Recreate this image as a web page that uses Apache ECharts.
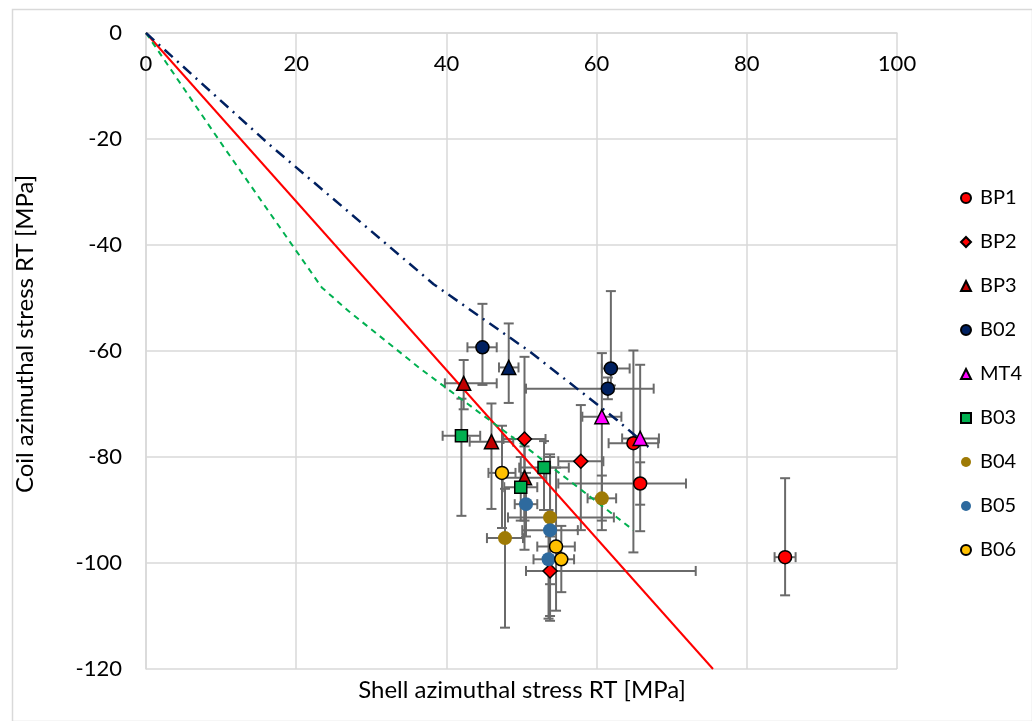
<!DOCTYPE html>
<html>
<head>
<meta charset="utf-8">
<script src="https://cdn.jsdelivr.net/npm/echarts@6/dist/echarts.min.js"></script>
<style>
html,body{margin:0;padding:0;background:#fff;}
#c{width:1032px;height:721px;}
</style>
</head>
<body>
<div id="c"></div>
<script>
// Each point: [x, y, xLow, xHigh, yLow, yHigh]
const BP1 = [[85.1,-98.9,83.7,86.5,-106.1,-84.0],[65.8,-85.0,54.9,71.9,-89.0,-81.0],[64.9,-77.4,61.6,68.2,-98.0,-59.9]];
const BP2 = [[50.4,-76.6,47.6,53.2,-92.0,-61.1],[57.9,-80.8,54.9,60.9,-93.8,-70.2],[53.8,-101.5,50.6,73.2,-110.9,-95.0]];
const BP3 = [[42.3,-66.1,39.8,46.7,-71.0,-61.7],[46.0,-77.1,43.1,48.9,-89.8,-69.9],[50.4,-83.9,47.5,53.3,-97.5,-78.0]];
const B02 = [[44.8,-59.3,42.8,46.7,-66.4,-51.1],[61.9,-63.3,60.7,64.4,-66.5,-48.7],[61.5,-67.1,50.6,67.6,-69.1,-65.0]];
const MT4 = [[60.7,-72.4,58.1,63.3,-93.8,-60.4],[65.8,-76.5,63.4,68.3,-94.0,-62.6]];
const B03 = [[42.0,-76.0,39.5,44.5,-91.1,-69.0],[53.0,-82.0,49.7,56.3,-90.0,-77.0],[49.9,-85.7,47.7,52.1,-92.0,-80.0]];
const B04 = [[60.7,-87.8,58.8,62.6,-92.0,-83.5],[53.8,-91.4,48.2,62.3,-104.0,-79.5],[47.8,-95.3,45.4,50.2,-112.2,-86.0]];
const B05 = [[50.6,-88.9,49.1,52.1,-95.0,-83.0],[53.8,-93.8,50.1,57.5,-110.0,-80.0],[53.6,-99.3,51.6,55.6,-110.5,-90.0]];
const B06 = [[47.4,-83.0,45.6,49.2,-93.4,-74.1],[54.6,-96.9,52.1,57.1,-109.0,-82.0],[55.3,-99.3,53.6,57.0,-105.5,-93.0]];
const EXTRA = [[48.3,-63.1,47.0,49.6,-69.8,-54.8]];

const redLine = [[0,0],[75.5,-120]];
const greenLine = [[0,0],[10.3,-21.4],[23.4,-48.0],[27,-52.5],[36.5,-63.3],[51.1,-78.7],[64.9,-93.8]];
const navyLine = [[0,0],[16.3,-20.9],[38.3,-47.4],[51.1,-60.1],[62.7,-73.0],[66.9,-78.1]];

const xTicks = [0,20,40,60,80,100];
const yTicks = [0,-20,-40,-60,-80,-100,-120];

const FONT = 'Lato, "Open Sans", sans-serif';

const markerDefs = [
  {name:'BP1', data:BP1, symbol:'circle', size:13, color:'#FF0000', border:'#000'},
  {name:'BP2', data:BP2, symbol:'diamond', size:14, color:'#FF0000', border:'#000'},
  {name:'BP3', data:BP3, symbol:'triangle', size:14, color:'#C00000', border:'#000'},
  {name:'B02', data:B02, symbol:'circle', size:13, color:'#002060', border:'#000'},
  {name:'MT4', data:MT4, symbol:'triangle', size:14, color:'#FF00FF', border:'#000'},
  {name:'B03', data:B03, symbol:'rect', size:12, color:'#00B050', border:'#000'},
  {name:'B04', data:B04, symbol:'circle', size:14, color:'#9E7A05', border:null},
  {name:'B05', data:B05, symbol:'circle', size:14, color:'#2E6A9E', border:null},
  {name:'B06', data:B06, symbol:'circle', size:13, color:'#FFC000', border:'#000'},
  {name:'extra', data:EXTRA, symbol:'triangle', size:14, color:'#002060', border:'#000'}
];

function errRender(params, api){
  const x=api.value(0), y=api.value(1);
  const c=api.coord([x,y]);
  const xl=api.coord([api.value(2),y]), xh=api.coord([api.value(3),y]);
  const yl=api.coord([x,api.value(4)]), yh=api.coord([x,api.value(5)]);
  const s={stroke:'#6a6a6a', lineWidth:2};
  const cap=5;
  return {type:'group', children:[
    {type:'line', shape:{x1:xl[0],y1:c[1],x2:xh[0],y2:c[1]}, style:s},
    {type:'line', shape:{x1:xl[0],y1:c[1]-cap,x2:xl[0],y2:c[1]+cap}, style:s},
    {type:'line', shape:{x1:xh[0],y1:c[1]-cap,x2:xh[0],y2:c[1]+cap}, style:s},
    {type:'line', shape:{x1:c[0],y1:yl[1],x2:c[0],y2:yh[1]}, style:s},
    {type:'line', shape:{x1:c[0]-cap,y1:yl[1],x2:c[0]+cap,y2:yl[1]}, style:s},
    {type:'line', shape:{x1:c[0]-cap,y1:yh[1],x2:c[0]+cap,y2:yh[1]}, style:s}
  ]};
}

const series = [];
markerDefs.forEach(d=>{
  series.push({
    type:'custom', name:d.name+'_err', renderItem:errRender, data:d.data,
    encode:{x:[0,2,3], y:[1,4,5]}, z:3, silent:true, clip:true
  });
});
series.push({type:'line', name:'red', data:redLine, showSymbol:false, z:4, clip:true,
  lineStyle:{color:'#FF0000', width:2}});
series.push({type:'line', name:'green', data:greenLine, showSymbol:false, z:4, clip:true,
  lineStyle:{color:'#00B050', width:2, type:[6,5]}});
series.push({type:'line', name:'navy', data:navyLine, showSymbol:false, z:4, clip:true,
  lineStyle:{color:'#002060', width:2.5, type:[11,6,2,6]}});
markerDefs.forEach(d=>{
  series.push({
    type:'scatter', name:d.name, data:d.data.map(p=>[p[0],p[1]]),
    symbol:d.symbol, symbolSize:d.size, z:5,
    itemStyle:{color:d.color, opacity:1, borderColor:d.border||d.color, borderWidth:d.border?1.5:0}
  });
});

const chart = echarts.init(document.getElementById('c'));
chart.setOption({
  animation:false,
  backgroundColor:'#fff',
  textStyle:{fontFamily:FONT},
  grid:{left:146, right:135, top:33, bottom:52, containLabel:false},
  xAxis:{type:'value', min:0, max:100, interval:20, position:'top',
    axisLine:{show:true, lineStyle:{color:'#d9d9d9', width:1.5}},
    axisTick:{show:false},
    axisLabel:{inside:true, fontSize:22, color:'#000', margin:20, fontFamily:FONT,
      formatter:v=>xTicks.includes(v)?String(v):''},
    splitLine:{show:true, lineStyle:{color:'#d9d9d9', width:1.5}}
  },
  yAxis:{type:'value', min:-120, max:0, interval:20,
    axisLine:{show:true, onZero:false, lineStyle:{color:'#d9d9d9', width:1.5}},
    axisTick:{show:false},
    axisLabel:{fontSize:22, color:'#000', margin:24, fontFamily:FONT,
      formatter:v=>yTicks.includes(v)?String(v):''},
    splitLine:{show:true, lineStyle:{color:'#d9d9d9', width:1.5}}
  },
  legend:{
    data:['BP1','BP2','BP3','B02','MT4','B03','B04','B05','B06'],
    orient:'vertical', left:955, top:183, itemWidth:10, itemHeight:10, itemGap:24,
    textStyle:{fontSize:20, color:'#000', lineHeight:20, fontFamily:FONT, padding:[0,0,0,4]}
  },
  graphic:[
    {type:'rect', left:10, top:7, shape:{width:1020, height:712}, style:{fill:'none', stroke:'#d9d9d9', lineWidth:1.5}, silent:true},
    {type:'text', x:522, y:690, style:{text:'Shell azimuthal stress RT [MPa]', font:'24px '+FONT, fill:'#000', textAlign:'center', textVerticalAlign:'middle'}},
    {type:'text', x:25, y:334, rotation:Math.PI/2, style:{text:'Coil azimuthal stress RT [MPa]', font:'24px '+FONT, fill:'#000', textAlign:'center', textVerticalAlign:'middle'}}
  ],
  series:series
});
</script>
</body>
</html>
